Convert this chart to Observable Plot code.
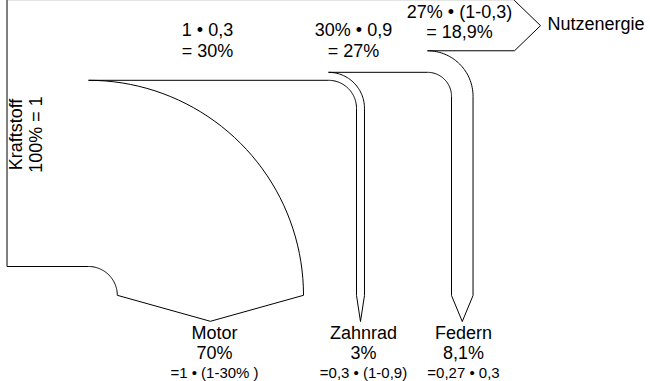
<!DOCTYPE html>
<html>
<head>
<meta charset="utf-8">
<script src="https://cdn.jsdelivr.net/npm/d3@7"></script>
<script src="https://cdn.jsdelivr.net/npm/@observablehq/plot@0.6"></script>
<style>
  html, body { margin: 0; padding: 0; background: #fff; }
  #chart svg { display: block; }
</style>
</head>
<body>
<div id="chart"></div>
<script>
// ---------- data ----------
const sourceName = "Kraftstoff";
const sourceLabel = "100% = 1";
const sourceShare = 1;

const flowNames = ["Motor", "Zahnrad", "Federn", "Nutzenergie"];
const flowShares = [0.70, 0.03, 0.081, 0.189];
const flowPercentLabels = ["70%", "3%", "8,1%"];
const flowFormulaLabels = ["=1 • (1-30% )", "=0,3 • (1-0,9)", "=0,27 • 0,3"];

const stepFormulaLabels = ["1 • 0,3", "30% • 0,9", "27% • (1-0,3)"];
const stepResultLabels = ["= 30%", "= 27%", "= 18,9%"];

// ---------- layout ----------
const W = 650, H = 381;
const unit = 266;          // pixel height of 100 %
const xLeft = 6.5;         // source edge
const baseY = 295;         // where the loss arrows start to point
const tip = 26;            // arrow tip depth
const motorX = 88, motorR = 215;
const zahnX = 328, zahnRi = 28;
const fedX = 427, fedRi = 24;
const outX = 514, outTip = 26;

const w = Object.fromEntries(flowNames.map((n, i) => [n, flowShares[i] * unit]));
const yN1 = w.Nutzenergie;
const yF1 = yN1 + w.Federn;
const yZ1 = yF1 + w.Zahnrad;

function arc(cx, cy, r, a0, a1, n = 40) {
  const pts = [];
  for (let k = 0; k <= n; k++) {
    const a = a0 + (a1 - a0) * k / n;
    pts.push({x: cx + r * Math.cos(a), y: cy + r * Math.sin(a)});
  }
  return pts;
}
const up = -Math.PI / 2;

function lossBranch(x, yTop, width, ri) {
  const ro = ri + width;
  const cy = yTop + ro;
  return [
    ...arc(x, cy, ro, up, 0),
    {x: x + ro, y: baseY},
    {x: x + ri + width / 2, y: baseY + tip},
    {x: x + ri, y: baseY},
    ...arc(x, cy, ri, 0, up)
  ];
}

const mRo = motorR, mRi = motorR - w.Motor, mCy = yZ1 + motorR;
const outline = [
  {x: outX, y: 0},
  {x: outX + outTip, y: yN1 / 2},
  {x: outX, y: yN1},
  {x: fedX, y: yN1},
  ...lossBranch(fedX, yN1, w.Federn, fedRi),
  {x: zahnX, y: yF1},
  ...lossBranch(zahnX, yF1, w.Zahnrad, zahnRi),
  {x: motorX, y: yZ1},
  ...arc(motorX, mCy, mRo, up, 0),
  {x: motorX + mRi + w.Motor / 2, y: mCy + tip},
  {x: motorX + mRi, y: mCy},
  ...arc(motorX, mCy, mRi, 0, up),
  {x: xLeft, y: sourceShare * unit},
  {x: xLeft, y: 0}
];
const topEdge = [{x: xLeft, y: 0}, {x: outX, y: 0}];

// label positions
const stepX = [207, 353, 459];
const stepY = [56, 56, 37.5];      // baseline of the second line
const lossX = [214, 363, 463];

const steps = stepFormulaLabels.map((t, i) => ({x: stepX[i], y: stepY[i], t: t + "\n" + stepResultLabels[i]}));
const losses = flowPercentLabels.map((p, i) => ({x: lossX[i], t: flowNames[i] + "\n" + p, f: flowFormulaLabels[i]}));

const font = "'Liberation Sans', Arial, Helvetica, sans-serif";
const LH = 1.125;

const chart = Plot.plot({
  width: W,
  height: H,
  margin: 0,
  x: {domain: [0, W], range: [0, W], axis: null},
  y: {domain: [0, H], range: [0, H], axis: null},
  style: {fontFamily: font, background: "#fff", color: "#000"},
  marks: [
    Plot.line(topEdge, {x: "x", y: "y", stroke: "#e4e4e4", strokeWidth: 1}),
    Plot.line(outline, {x: "x", y: "y", stroke: "#000", strokeWidth: 1, strokeLinejoin: "miter"}),
    // step labels
    Plot.text(steps, {x: "x", y: "y", text: "t", fontSize: 18, lineHeight: LH, lineAnchor: "bottom", textAnchor: "middle", fill: "#000"}),
    // output label
    Plot.text([flowNames[3]], {x: () => 547, y: () => 29, text: d => d, fontSize: 18, lineAnchor: "bottom", textAnchor: "start", fill: "#000"}),
    // source labels (rotated)
    Plot.text([sourceName + "\n" + sourceLabel], {x: () => 41.5, y: () => 134, text: d => d, rotate: -90, fontSize: 18, lineHeight: LH, lineAnchor: "bottom", textAnchor: "middle", fill: "#000"}),
    // loss labels
    Plot.text(losses, {x: "x", y: () => 358.75, text: "t", fontSize: 18, lineHeight: LH, lineAnchor: "bottom", textAnchor: "middle", fill: "#000"}),
    Plot.text(losses, {x: "x", y: () => 377, text: "f", fontSize: 15, lineAnchor: "bottom", textAnchor: "middle", fill: "#000"})
  ]
});
document.getElementById("chart").appendChild(chart);
</script>
</body>
</html>
